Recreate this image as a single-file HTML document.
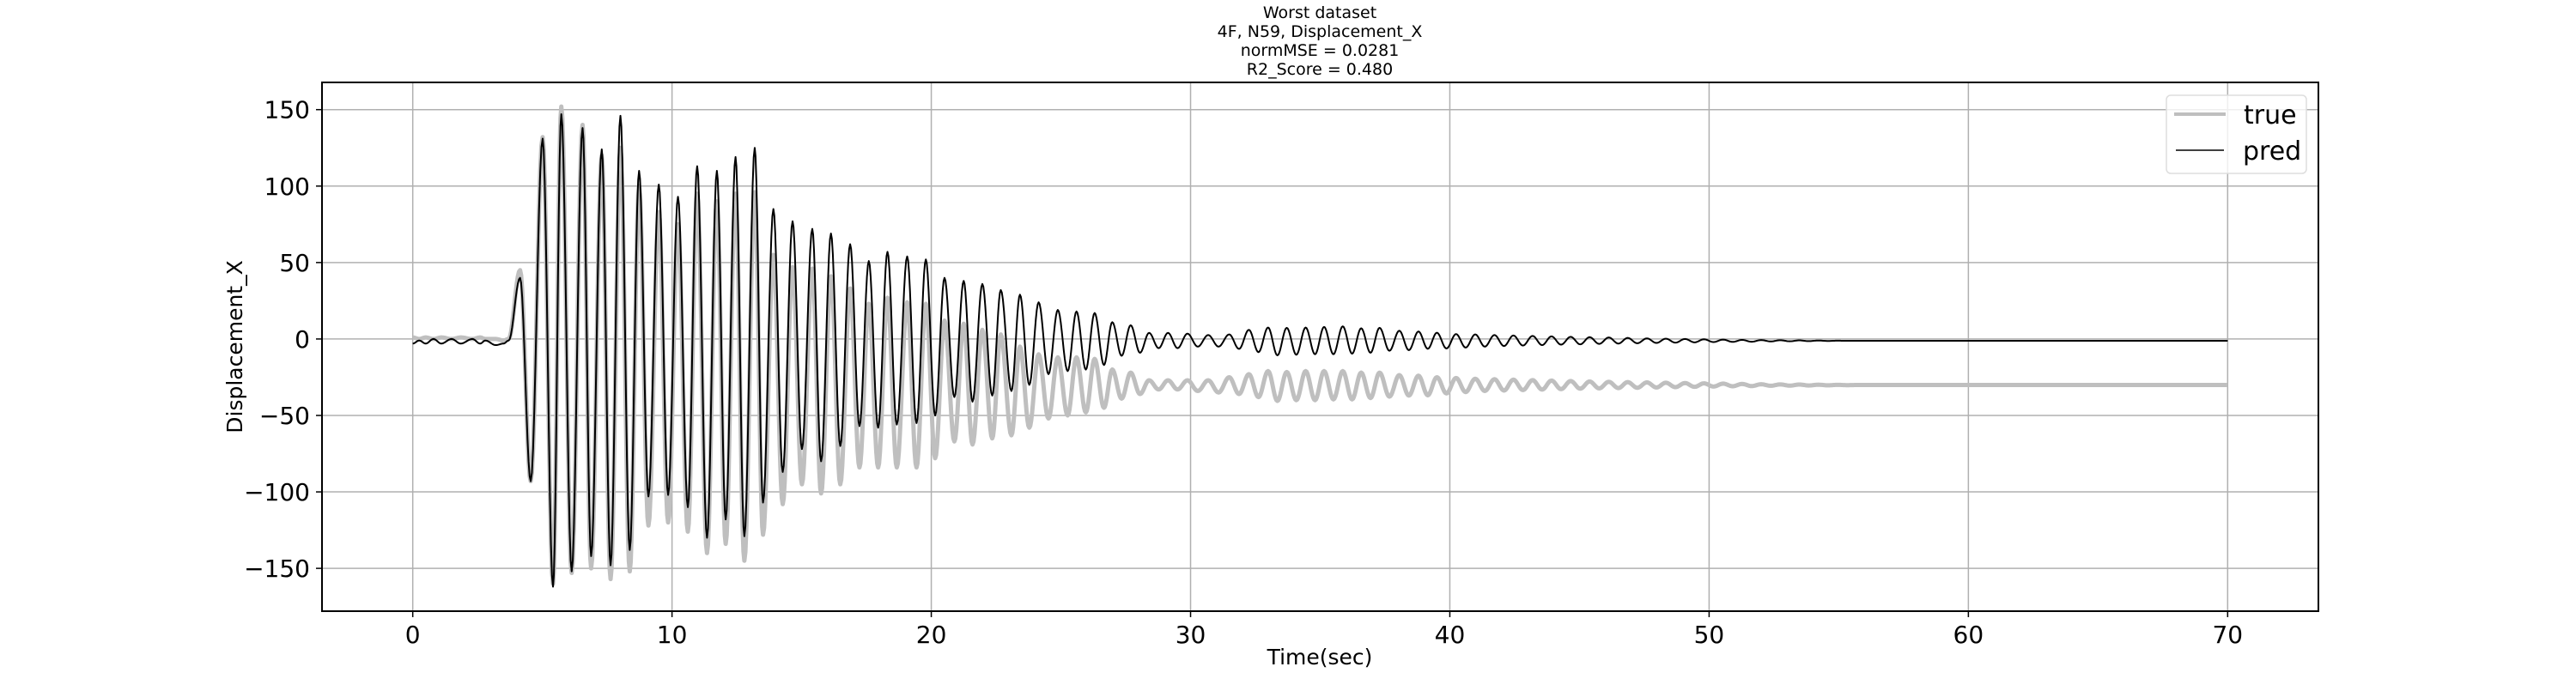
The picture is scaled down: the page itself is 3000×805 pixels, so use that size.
<!DOCTYPE html>
<html><head><meta charset="utf-8"><style>
html,body{margin:0;padding:0;background:#fff;}
svg text{font-family:"DejaVu Sans","Liberation Sans",sans-serif;fill:#000;}
</style></head><body>
<svg id="chart" width="3000" height="800" xmlns="http://www.w3.org/2000/svg">
<g font-size="19" text-anchor="middle">
<text x="1537" y="21">Worst dataset</text>
<text x="1537" y="43">4F, N59, Displacement_X</text>
<text x="1537" y="65">normMSE = 0.0281</text>
<text x="1537" y="87">R2_Score = 0.480</text>
</g>
<g id="grid"></g>
<g id="series"></g>
<rect x="375" y="96" width="2325" height="616" fill="none" stroke="#000" stroke-width="2"/>
<g id="ticks"></g>
<text x="1537" y="774" font-size="25" text-anchor="middle">Time(sec)</text>
<text transform="translate(282,404) rotate(-90)" font-size="25" text-anchor="middle">Displacement_X</text>
<g>
<rect x="2523" y="111" width="163" height="91" rx="5" fill="#fff" fill-opacity="0.8" stroke="#ddd" stroke-width="1.5"/>
<line x1="2532" y1="133" x2="2592" y2="133" stroke="#bfbfbf" stroke-width="4"/>
<text x="2613" y="144" font-size="30">true</text>
<line x1="2534" y1="175" x2="2590" y2="175" stroke="#000" stroke-width="1.5"/>
<text x="2612" y="186" font-size="30">pred</text>
</g>
</svg>
<script>
const xTicks = [0,10,20,30,40,50,60,70];
const yTicks = [-150,-100,-50,0,50,100,150];
const times = [0,0.25,0.5,0.8,1.1,1.5,1.85,2.3,2.6,2.8,3.2,3.5,3.7,
4.14,4.55,5.01,5.41,5.73,6.13,6.55,6.88,7.29,7.63,8.01,8.37,8.73,9.09,9.49,9.85,10.23,10.61,10.97,11.35,11.73,12.07,12.45,12.79,13.19,13.51,13.91,14.27,14.65,15.01,15.41,15.75,16.13,16.49,16.87,17.23,17.59,17.95,18.31,18.67,19.07,19.43,19.79,20.15,20.51,20.89,21.25,21.59,21.97,22.35,22.68,23.09,23.42,23.78,24.14,24.52,24.88,25.26,25.60,25.96,26.30,26.66,26.98,27.34,27.69,28.05,28.40,28.77,29.13,29.50,29.88,30.28,30.68,31.08,31.49,31.87,32.25,32.62,32.99,33.35,33.71,34.08,34.44,34.80,35.15,35.51,35.87,36.23,36.58,36.94,37.29,37.67,38.05,38.42,38.79,39.15,39.50,39.87,40.24,40.61,40.98,41.35,41.72,42.09,42.45,42.82,43.19,43.56,43.92,44.29,44.66,45.03,45.39,45.76,46.13,46.50,46.86,47.23,47.60,47.97,48.33,48.70,49.07,49.44,49.80,50.17,50.54,50.91,51.27,51.64,52.01,52.38,52.74,53.11,53.48,53.85,54.21,54.58,54.95,55.32,55.68,70];
const predValues = [-3,-1,-3,0,-3,0,-3,0,-3,-1,-4,-3,-1,
40,-93,131,-162,147,-152,138,-142,124,-148,146,-138,110,-103,101,-102,93,-110,113,-130,110,-118,119,-129,125,-107,85,-87,77,-72,72,-80,69,-70,62,-57,51,-58,57,-56,54,-55,52,-50,40,-38,38,-41,36,-37,32,-34,29,-30,24,-23,19,-21,18,-20,17,-17,11,-11,9,-9,4,-6,4,-6,3.5,-5,2.6,-5,3,-6.5,6,-8.6,7.5,-10.7,7.3,-10.3,7.5,-10,7.9,-10,8.3,-9.6,7,-9,7.3,-7.7,5.4,-7.3,4.9,-6.4,4.1,-6.2,3.2,-5.6,3,-5,2.6,-4.6,2.3,-4.3,2,-4,1.7,-3.7,1.4,-3.5,1.2,-3.2,1,-3,0.7,-2.8,0.4,-2.6,0.2,-2.4,0,-2.2,-0.2,-2,-0.4,-1.9,-0.6,-1.8,-0.7,-1.6,-0.8,-1.5,-0.9,-1.4,-1,-1.3,-1.1,-1.2,-1.15,-1.2];
const trueValues = [1,0,1,0,1,0,1,0,1,0,0,-1,0,
45,-93,132,-160,152,-153,140,-150,120,-157,125,-152,100,-122,83,-120,75,-126,95,-140,90,-134,95,-145,96,-128,55,-108,47,-95,46,-101,41,-95,33,-84,23,-84,27,-84,24,-84,23,-78,12,-67,10,-69,6,-65,3,-63,-5,-58,-10,-52,-12,-50,-12,-48,-13,-45,-20,-39,-22,-36,-27,-33,-27,-33,-27,-34,-27,-35,-25,-36,-23,-38,-21,-40.5,-21.6,-40,-21,-40,-21,-39.5,-21,-39.5,-22,-38.6,-22,-37.7,-23.6,-37,-24,-36.8,-25,-35.6,-25.5,-34.7,-26,-34,-26.3,-33.7,-26.6,-33.4,-26.9,-33.1,-27.2,-32.8,-27.5,-32.5,-27.8,-32.3,-28,-32.1,-28.2,-31.9,-28.4,-31.7,-28.6,-31.5,-28.8,-31.3,-29,-31.1,-29.2,-30.9,-29.4,-30.8,-29.6,-30.6,-29.7,-30.5,-29.8,-30.4,-29.9,-30.3,-30,-30.2,-30.1,-30.1];

const NS = 'http://www.w3.org/2000/svg';
const X0 = 375, X1 = 2700, Y0 = 96, Y1 = 712;
const xMin = -3.5, xMax = 73.5, yMin = -178, yMax = 167.8;
function xs(v){ return X0 + (v - xMin) / (xMax - xMin) * (X1 - X0); }
function ys(v){ return Y1 - (v - yMin) / (yMax - yMin) * (Y1 - Y0); }

const grid = document.getElementById('grid');
const ticks = document.getElementById('ticks');
xTicks.forEach(t => {
  const g = document.createElementNS(NS, 'line');
  
  
  g.setAttribute('x1', xs(t)); g.setAttribute('x2', xs(t));
  g.setAttribute('y1', Y0); g.setAttribute('y2', Y1);
  g.setAttribute('stroke', '#b0b0b0'); g.setAttribute('stroke-width', '1.5');
  grid.appendChild(g);
  const tk = document.createElementNS(NS, 'line');
  
  
  tk.setAttribute('x1', xs(t)); tk.setAttribute('x2', xs(t));
  tk.setAttribute('y1', Y1); tk.setAttribute('y2', Y1 + 7);
  tk.setAttribute('stroke', '#000'); tk.setAttribute('stroke-width', '1.5');
  ticks.appendChild(tk);
  const lb = document.createElementNS(NS, 'text');
  
  
  lb.setAttribute('x', xs(t)); lb.setAttribute('y', Y1 + 37);
  lb.setAttribute('font-size', '28'); lb.setAttribute('text-anchor', 'middle');
  lb.textContent = String(t);
  ticks.appendChild(lb);
});
yTicks.forEach(t => {
  const g = document.createElementNS(NS, 'line');
  
  
  g.setAttribute('x1', X0); g.setAttribute('x2', X1);
  g.setAttribute('y1', ys(t)); g.setAttribute('y2', ys(t));
  g.setAttribute('stroke', '#b0b0b0'); g.setAttribute('stroke-width', '1.5');
  grid.appendChild(g);
  const tk = document.createElementNS(NS, 'line');
  
  
  tk.setAttribute('x1', X0 - 7); tk.setAttribute('x2', X0);
  tk.setAttribute('y1', ys(t)); tk.setAttribute('y2', ys(t));
  tk.setAttribute('stroke', '#000'); tk.setAttribute('stroke-width', '1.5');
  ticks.appendChild(tk);
  const lb = document.createElementNS(NS, 'text');
  
  
  lb.setAttribute('x', X0 - 14); lb.setAttribute('y', ys(t) + 10);
  lb.setAttribute('font-size', '28'); lb.setAttribute('text-anchor', 'end');
  lb.textContent = (t < 0 ? '\u2212' + Math.abs(t) : String(t));
  ticks.appendChild(lb);
});

function buildPath(tArr, vArr){
  let d = 'M' + xs(tArr[0]).toFixed(2) + ',' + ys(vArr[0]).toFixed(2);
  for (let i = 0; i < tArr.length - 1; i++) {
    const t0 = tArr[i], t1 = tArr[i+1], v0 = vArr[i], v1 = vArr[i+1];
    const n = (t1 - t0) > 2 ? 2 : 10;
    for (let k = 1; k <= n; k++) {
      const f = k / n;
      const tt = t0 + (t1 - t0) * f;
      const vv = v0 + (v1 - v0) * (1 - Math.cos(Math.PI * f)) / 2;
      d += 'L' + xs(tt).toFixed(2) + ',' + ys(vv).toFixed(2);
    }
  }
  return d;
}
const series = document.getElementById('series');
const pTrue = document.createElementNS(NS, 'path');


pTrue.setAttribute('d', buildPath(times, trueValues));
pTrue.setAttribute('fill', 'none'); pTrue.setAttribute('stroke', '#bfbfbf');
pTrue.setAttribute('stroke-width', '5'); pTrue.setAttribute('stroke-linejoin', 'round');
series.appendChild(pTrue);
const pPred = document.createElementNS(NS, 'path');


pPred.setAttribute('d', buildPath(times, predValues));
pPred.setAttribute('fill', 'none'); pPred.setAttribute('stroke', '#000');
pPred.setAttribute('stroke-width', '2'); pPred.setAttribute('stroke-linejoin', 'round');
series.appendChild(pPred);
</script>
</body></html>
